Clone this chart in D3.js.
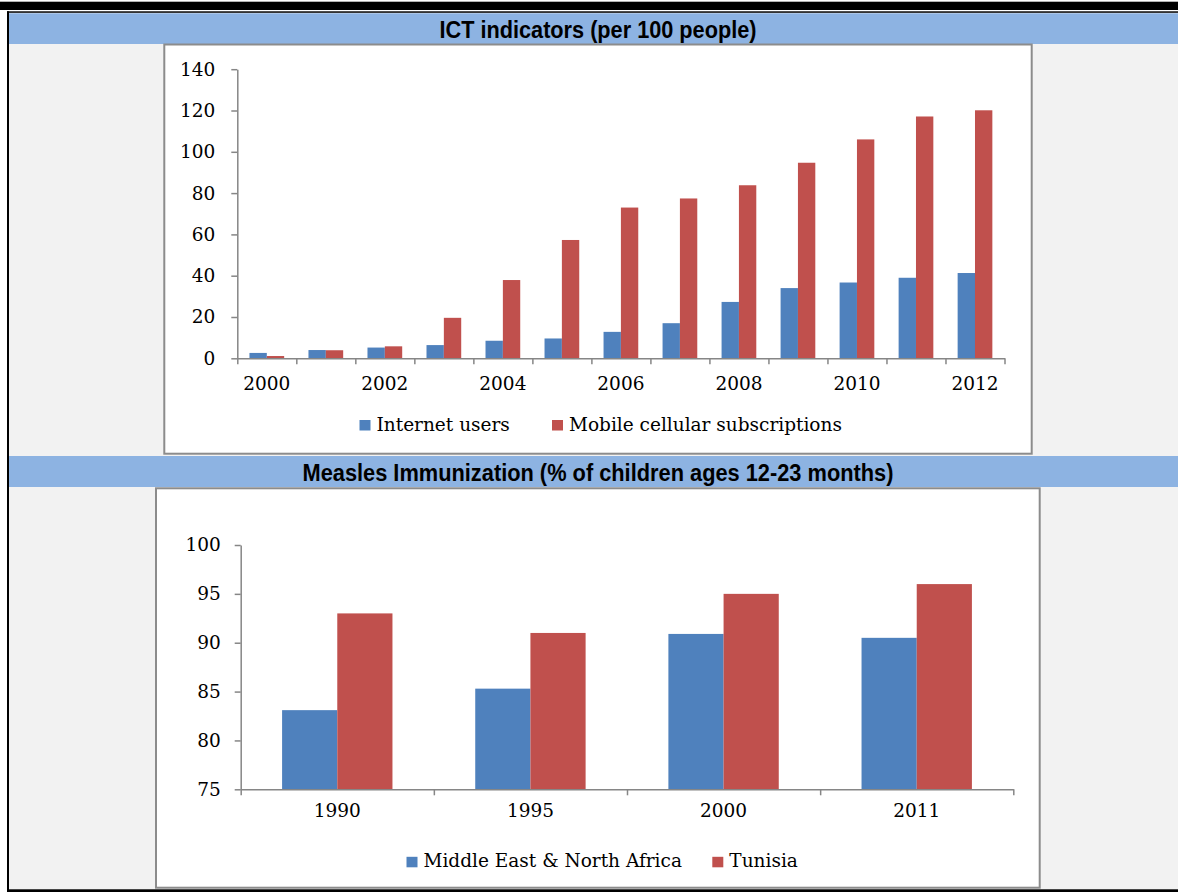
<!DOCTYPE html>
<html>
<head>
<meta charset="utf-8">
<script src="https://cdn.jsdelivr.net/npm/d3@7"></script>
<style>
  body { margin: 0; background: #fff; }
  svg { display: block; }
  .tick text { font-family: "DejaVu Serif", serif; font-size: 18.5px; fill: #000; }
  .legend text { font-family: "DejaVu Serif", serif; font-size: 18.5px; fill: #000; }
  .title { font-family: "Liberation Sans Narrow", "Arial Narrow", "Liberation Sans", sans-serif;
           font-weight: bold; font-size: 23px; fill: #000; }
</style>
</head>
<body>
<svg id="page" width="1178" height="892"></svg>
<script>
// ICT indicators (per 100 people)
const ictYears = ["2000", "2001", "2002", "2003", "2004", "2005", "2006",
                  "2007", "2008", "2009", "2010", "2011", "2012"];
const internetUsers = [2.6, 4.0, 5.2, 6.4, 8.5, 9.6, 12.8, 17.0, 27.3, 34.0, 36.7, 39.0, 41.3];
const mobileSubs = [1.1, 3.9, 5.8, 19.6, 37.9, 57.3, 73.0, 77.4, 83.8, 94.7, 106.0, 117.1, 120.1];
const ictTicks = [0, 20, 40, 60, 80, 100, 120, 140];
const ictLabelYears = ["2000", "2002", "2004", "2006", "2008", "2010", "2012"];
const ictSeries = ["Internet users", "Mobile cellular subscriptions"];

// Measles immunization (% of children ages 12-23 months)
const measlesYears = ["1990", "1995", "2000", "2011"];
const menaValues = [83.1, 85.3, 90.9, 90.5];
const tunisiaValues = [93.0, 91.0, 95.0, 96.0];
const measlesTicks = [75, 80, 85, 90, 95, 100];
const measlesSeries = ["Middle East & North Africa", "Tunisia"];

const colors = ["#4f81bd", "#c0504d"];
const axisColor = "#868686";

const svg = d3.select("#page");

// page frame: grey panel, black rules, blue header bands
svg.append("rect").attr("x", 9).attr("y", 13).attr("width", 1169).attr("height", 877).attr("fill", "#f2f2f2");
svg.append("rect").attr("x", 0).attr("y", 1.7).attr("width", 1178).attr("height", 8.3).attr("fill", "#000");
svg.append("rect").attr("x", 7).attr("y", 11.3).attr("width", 1171).attr("height", 1.5).attr("fill", "#000");
svg.append("rect").attr("x", 7).attr("y", 11.3).attr("width", 2).attr("height", 881).attr("fill", "#000");
svg.append("rect").attr("x", 7).attr("y", 889.3).attr("width", 1171).attr("height", 3).attr("fill", "#000");

function header(y0, y1, text, len) {
  svg.append("rect")
    .attr("x", 9).attr("y", y0)
    .attr("width", 1169).attr("height", y1 - y0)
    .attr("fill", "#8db3e2");
  svg.append("text")
    .attr("class", "title")
    .attr("x", 598).attr("y", (y0 + y1) / 2 + 9)
    .attr("text-anchor", "middle")
    .attr("textLength", len)
    .attr("lengthAdjust", "spacingAndGlyphs")
    .text(text);
}

function chartBox(x0, y0, x1, y1) {
  svg.append("rect")
    .attr("x", x0).attr("y", y0)
    .attr("width", x1 - x0).attr("height", y1 - y0)
    .attr("fill", "#fff")
    .attr("stroke", "#8c8c8c")
    .attr("stroke-width", 2);
}

/*
 * Grouped bar chart with Excel-like axes: tick marks sit on the category
 * boundaries, labels are centred in each category band.
 */
function barChart(opts) {
  const n = opts.categories.length;
  const g = svg.append("g");

  const y = d3.scaleLinear().domain(opts.yDomain).range([opts.bottom, opts.top]);
  const xIdx = d3.scaleLinear().domain([0, n]).range([opts.left, opts.right]);
  const x = d3.scaleBand().domain(opts.categories).range([opts.left, opts.right]);
  const xSub = d3.scaleBand().domain(opts.series).range([0, x.bandwidth()])
      .paddingInner(0).paddingOuter(opts.outerPad);

  // bars
  const rows = opts.categories.map((c, i) => ({
    cat: c,
    vals: opts.values.map((v, s) => ({ key: opts.series[s], s: s, v: v[i] }))
  }));
  g.selectAll(".group")
    .data(rows).enter()
    .append("g")
    .attr("transform", (d) => "translate(" + x(d.cat) + ",0)")
    .selectAll("rect")
    .data((d) => d.vals).enter()
    .append("rect")
    .attr("x", (d) => xSub(d.key))
    .attr("width", xSub.bandwidth())
    .attr("y", (d) => y(d.v))
    .attr("height", (d) => y(opts.yDomain[0]) - y(d.v))
    .attr("fill", (d) => colors[d.s]);

  // y axis
  const yAxis = g.append("g")
    .attr("transform", "translate(" + opts.left + ",0)")
    .call(d3.axisLeft(y).tickValues(opts.yTicks).tickSize(6).tickSizeOuter(0)
      .tickPadding(opts.yPad));
  // x axis tick marks on the band edges
  const xTicks = g.append("g")
    .attr("transform", "translate(0," + opts.bottom + ")")
    .call(d3.axisBottom(xIdx).tickValues(d3.range(n + 1)).tickSize(6).tickSizeOuter(0)
      .tickFormat(""));
  // x axis labels centred in the bands
  g.append("g")
    .attr("transform", "translate(0," + opts.bottom + ")")
    .call(d3.axisBottom(x).tickValues(opts.xLabels).tickSize(0).tickPadding(opts.xPad))
    .call((s) => s.select(".domain").remove());

  [yAxis, xTicks].forEach((a) => {
    a.selectAll(".domain, .tick line").attr("stroke", axisColor).attr("stroke-width", 1.5);
  });

  // legend
  const lg = svg.append("g").attr("class", "legend");
  opts.legend.forEach((item, i) => {
    lg.append("rect")
      .attr("x", item.x).attr("y", opts.legendY - 10.5)
      .attr("width", 11).attr("height", 10.5)
      .attr("fill", colors[i]);
    lg.append("text")
      .attr("x", item.x + 17).attr("y", opts.legendY)
      .text(opts.series[i]);
  });
}

header(13.3, 44, "ICT indicators (per 100 people)", 317);
chartBox(164.3, 44.5, 1031.7, 453.7);
barChart({
  categories: ictYears,
  series: ictSeries,
  values: [internetUsers, mobileSubs],
  yDomain: [0, 140],
  yTicks: ictTicks,
  xLabels: ictLabelYears,
  left: 237.3, right: 1004.5, top: 69.2, bottom: 358.3,
  outerPad: 0.7,
  yPad: 16, xPad: 19,
  legendY: 430.5,
  legend: [{ x: 359.5 }, { x: 552 }]
});

header(456, 487, "Measles Immunization (% of children ages 12-23 months)", 591);
chartBox(156, 488.3, 1039.7, 887.7);
barChart({
  categories: measlesYears,
  series: measlesSeries,
  values: [menaValues, tunisiaValues],
  yDomain: [75, 100],
  yTicks: measlesTicks,
  xLabels: measlesYears,
  left: 240.7, right: 1013.3, top: 545, bottom: 789.3,
  outerPad: 0.75,
  yPad: 14, xPad: 15,
  legendY: 867.3,
  legend: [{ x: 406.5 }, { x: 712.3 }]
});
</script>
</body>
</html>
